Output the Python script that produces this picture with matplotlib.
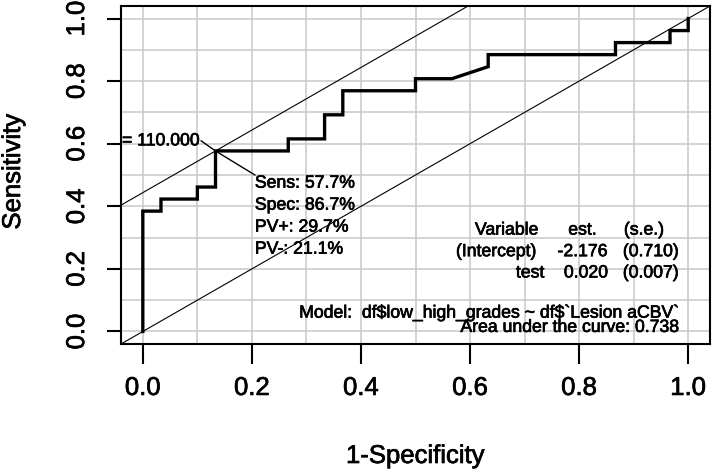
import matplotlib
matplotlib.use("Agg")
import matplotlib.pyplot as plt
import matplotlib.patheffects as pe
import numpy as np

plt.rcParams['font.family'] = ['Liberation Sans', 'DejaVu Sans']
plt.rcParams['text.parse_math'] = False

# ROC curve vertices (1-Specificity, Sensitivity)
fpr = [0.0, 0.0, 0.0333, 0.0333, 0.1, 0.1, 0.1333, 0.1333, 0.2667, 0.2667,
       0.3333, 0.3333, 0.3667, 0.3667, 0.5, 0.5, 0.5667, 0.6333, 0.6333,
       0.8667, 0.8667, 0.9667, 0.9667, 1.0, 1.0]
tpr = [0.0, 0.3846, 0.3846, 0.4231, 0.4231, 0.4615, 0.4615, 0.5769, 0.5769,
       0.6154, 0.6154, 0.6923, 0.6923, 0.7692, 0.7692, 0.8077, 0.8077,
       0.8462, 0.8846, 0.8846, 0.9231, 0.9231, 0.9615, 0.9615, 1.0]

opt_fpr = 0.1333
opt_tpr = 0.5769
cutoff_label = "= 110.000"
stats_lines = ["Sens: 57.7%", "Spec: 86.7%", "PV+: 29.7%", "PV-: 21.1%"]

table_header = ["Variable", "est.", "(s.e.)"]
table_rows = [["(Intercept)", "-2.176", "(0.710)"],
              ["test", "0.020", "(0.007)"]]
model_text = "Model:  df$low_high_grades ~ df$`Lesion aCBV`"
auc_text = "Area under the curve: 0.738"

xticks = [0.0, 0.2, 0.4, 0.6, 0.8, 1.0]
yticks = [0.0, 0.2, 0.4, 0.6, 0.8, 1.0]

W, H = 714, 473
fig = plt.figure(figsize=(W / 100, H / 100), dpi=100)
ax = fig.add_axes([121 / W, (H - 344) / H, (710 - 121) / W, (344 - 6) / H])
ax.set_xlim(-0.04, 1.04)
ax.set_ylim(-0.04, 1.04)

heavy = [pe.withStroke(linewidth=0.5, foreground='black')]

# grid
for g in np.arange(0, 1.01, 0.1):
    ax.axvline(g, color='#c8c8c8', lw=1.1, zorder=0)
    ax.axhline(g, color='#c8c8c8', lw=1.1, zorder=0)

# diagonals
xx = np.array([-0.1, 1.1])
ax.plot(xx, xx, color='black', lw=0.8, zorder=2)
ax.plot(xx, xx + (opt_tpr - opt_fpr), color='black', lw=0.8, zorder=2)

# ROC curve
ax.plot(fpr, tpr, color='black', lw=2.4, zorder=3, solid_joinstyle='miter')

fs = 12.7
# cutoff label and connector
ax.text(0.106, 0.609, cutoff_label, ha='right', va='center', fontsize=fs, zorder=4,
        path_effects=heavy)
ax.plot([0.107, opt_fpr, 0.2055], [0.609, opt_tpr, 0.50], color='black', lw=1.0, zorder=3)
for i, s in enumerate(stats_lines):
    ax.text(0.2055, 0.474 - i * 0.0703, s, ha='left', va='center', fontsize=fs, zorder=4,
            path_effects=heavy)

# coefficient table
hx = [0.667, 0.806, 0.919]
for c, s in enumerate(table_header):
    ax.text(hx[c], 0.324, s, ha='center', va='center', fontsize=fs, path_effects=heavy)
rx = [[0.648, 0.806, 0.932], [0.710, 0.813, 0.932]]
ry = [0.255, 0.187]
for r, row in enumerate(table_rows):
    for c, s in enumerate(row):
        ax.text(rx[r][c], ry[r], s, ha='center', va='center', fontsize=fs, path_effects=heavy)

ax.text(0.983, 0.060, model_text, ha='right', va='center', fontsize=fs, path_effects=heavy)
ax.text(0.983, 0.013, auc_text, ha='right', va='center', fontsize=fs, path_effects=heavy)

# axes styling
for sp in ax.spines.values():
    sp.set_linewidth(1.5)
ax.set_xticks(xticks)
ax.set_yticks(yticks)
ax.set_xticklabels([f"{v:.1f}" for v in xticks], fontsize=18.5)
ax.set_yticklabels([f"{v:.1f}" for v in yticks], fontsize=18.5, rotation=90, va='center')
ax.tick_params(axis='x', length=14.4, width=1.5, pad=8.6)
ax.tick_params(axis='y', length=10, width=1.5, pad=13)
for lbl in ax.get_xticklabels() + ax.get_yticklabels():
    lbl.set_path_effects(heavy)

ax.set_xlabel("1-Specificity", fontsize=18.5, va='center', path_effects=heavy)
ax.xaxis.set_label_coords(0.5, -(456 - 344) / 338)
ax.set_ylabel("Sensitivity", fontsize=18.5, va='center', path_effects=heavy)
ax.yaxis.set_label_coords(-(121 - 13) / 589, 0.51)

fig.savefig("out.png", dpi=100)
